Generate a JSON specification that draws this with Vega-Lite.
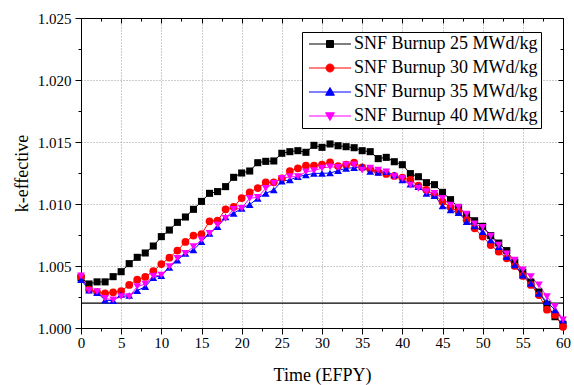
{
  "$schema": "https://vega.github.io/schema/vega-lite/v6.json",
  "width": 482,
  "height": 310,
  "autosize": {"type": "none"},
  "padding": {"left": 81, "top": 18, "right": 11, "bottom": 57},
  "background": "white",
  "config": {
    "font": "Liberation Serif",
    "view": {"stroke": "black", "strokeWidth": 1},
    "axis": {"domainColor": "black", "tickColor": "black", "labelColor": "black", "titleColor": "black", "titleFontWeight": "normal", "labelFont": "Liberation Serif", "titleFont": "Liberation Serif"}
  },
  "datasets": {
    "k": [
      {"t":0,"SNF Burnup 25 MWd/kg":1.00405,"SNF Burnup 30 MWd/kg":1.00414,"SNF Burnup 35 MWd/kg":1.0039,"SNF Burnup 40 MWd/kg":1.0042},
      {"t":1,"SNF Burnup 25 MWd/kg":1.00355,"SNF Burnup 30 MWd/kg":1.0031,"SNF Burnup 35 MWd/kg":1.00306,"SNF Burnup 40 MWd/kg":1.00302},
      {"t":2,"SNF Burnup 25 MWd/kg":1.00372,"SNF Burnup 30 MWd/kg":1.0029,"SNF Burnup 35 MWd/kg":1.00285,"SNF Burnup 40 MWd/kg":1.00293},
      {"t":3,"SNF Burnup 25 MWd/kg":1.00372,"SNF Burnup 30 MWd/kg":1.0028,"SNF Burnup 35 MWd/kg":1.00225,"SNF Burnup 40 MWd/kg":1.0024},
      {"t":4,"SNF Burnup 25 MWd/kg":1.00414,"SNF Burnup 30 MWd/kg":1.00288,"SNF Burnup 35 MWd/kg":1.0022,"SNF Burnup 40 MWd/kg":1.00226},
      {"t":5,"SNF Burnup 25 MWd/kg":1.00454,"SNF Burnup 30 MWd/kg":1.00298,"SNF Burnup 35 MWd/kg":1.0027,"SNF Burnup 40 MWd/kg":1.00253},
      {"t":6,"SNF Burnup 25 MWd/kg":1.00519,"SNF Burnup 30 MWd/kg":1.00347,"SNF Burnup 35 MWd/kg":1.00262,"SNF Burnup 40 MWd/kg":1.00253},
      {"t":7,"SNF Burnup 25 MWd/kg":1.0057,"SNF Burnup 30 MWd/kg":1.0039,"SNF Burnup 35 MWd/kg":1.00302,"SNF Burnup 40 MWd/kg":1.00333},
      {"t":8,"SNF Burnup 25 MWd/kg":1.00605,"SNF Burnup 30 MWd/kg":1.00412,"SNF Burnup 35 MWd/kg":1.00333,"SNF Burnup 40 MWd/kg":1.00355},
      {"t":9,"SNF Burnup 25 MWd/kg":1.00661,"SNF Burnup 30 MWd/kg":1.00458,"SNF Burnup 35 MWd/kg":1.00407,"SNF Burnup 40 MWd/kg":1.00419},
      {"t":10,"SNF Burnup 25 MWd/kg":1.00737,"SNF Burnup 30 MWd/kg":1.00516,"SNF Burnup 35 MWd/kg":1.00422,"SNF Burnup 40 MWd/kg":1.00427},
      {"t":11,"SNF Burnup 25 MWd/kg":1.0079,"SNF Burnup 30 MWd/kg":1.00567,"SNF Burnup 35 MWd/kg":1.00488,"SNF Burnup 40 MWd/kg":1.00495},
      {"t":12,"SNF Burnup 25 MWd/kg":1.00852,"SNF Burnup 30 MWd/kg":1.00624,"SNF Burnup 35 MWd/kg":1.00548,"SNF Burnup 40 MWd/kg":1.00562},
      {"t":13,"SNF Burnup 25 MWd/kg":1.00895,"SNF Burnup 30 MWd/kg":1.00694,"SNF Burnup 35 MWd/kg":1.00602,"SNF Burnup 40 MWd/kg":1.00602},
      {"t":14,"SNF Burnup 25 MWd/kg":1.00957,"SNF Burnup 30 MWd/kg":1.00745,"SNF Burnup 35 MWd/kg":1.00629,"SNF Burnup 40 MWd/kg":1.00656},
      {"t":15,"SNF Burnup 25 MWd/kg":1.01021,"SNF Burnup 30 MWd/kg":1.00758,"SNF Burnup 35 MWd/kg":1.00696,"SNF Burnup 40 MWd/kg":1.0071},
      {"t":16,"SNF Burnup 25 MWd/kg":1.01086,"SNF Burnup 30 MWd/kg":1.0086,"SNF Burnup 35 MWd/kg":1.00763,"SNF Burnup 40 MWd/kg":1.00763},
      {"t":17,"SNF Burnup 25 MWd/kg":1.011,"SNF Burnup 30 MWd/kg":1.00866,"SNF Burnup 35 MWd/kg":1.00817,"SNF Burnup 40 MWd/kg":1.0083},
      {"t":18,"SNF Burnup 25 MWd/kg":1.0114,"SNF Burnup 30 MWd/kg":1.00957,"SNF Burnup 35 MWd/kg":1.00895,"SNF Burnup 40 MWd/kg":1.00884},
      {"t":19,"SNF Burnup 25 MWd/kg":1.01215,"SNF Burnup 30 MWd/kg":1.00976,"SNF Burnup 35 MWd/kg":1.00925,"SNF Burnup 40 MWd/kg":1.00957},
      {"t":20,"SNF Burnup 25 MWd/kg":1.0125,"SNF Burnup 30 MWd/kg":1.01048,"SNF Burnup 35 MWd/kg":1.00965,"SNF Burnup 40 MWd/kg":1.00965},
      {"t":21,"SNF Burnup 25 MWd/kg":1.01266,"SNF Burnup 30 MWd/kg":1.01094,"SNF Burnup 35 MWd/kg":1.00995,"SNF Burnup 40 MWd/kg":1.01046},
      {"t":22,"SNF Burnup 25 MWd/kg":1.01333,"SNF Burnup 30 MWd/kg":1.01129,"SNF Burnup 35 MWd/kg":1.01046,"SNF Burnup 40 MWd/kg":1.01054},
      {"t":23,"SNF Burnup 25 MWd/kg":1.01344,"SNF Burnup 30 MWd/kg":1.01175,"SNF Burnup 35 MWd/kg":1.01086,"SNF Burnup 40 MWd/kg":1.01126},
      {"t":24,"SNF Burnup 25 MWd/kg":1.01347,"SNF Burnup 30 MWd/kg":1.01175,"SNF Burnup 35 MWd/kg":1.01113,"SNF Burnup 40 MWd/kg":1.01167},
      {"t":25,"SNF Burnup 25 MWd/kg":1.01409,"SNF Burnup 30 MWd/kg":1.01207,"SNF Burnup 35 MWd/kg":1.01185,"SNF Burnup 40 MWd/kg":1.01207},
      {"t":26,"SNF Burnup 25 MWd/kg":1.01422,"SNF Burnup 30 MWd/kg":1.01266,"SNF Burnup 35 MWd/kg":1.01194,"SNF Burnup 40 MWd/kg":1.0122},
      {"t":27,"SNF Burnup 25 MWd/kg":1.0143,"SNF Burnup 30 MWd/kg":1.01288,"SNF Burnup 35 MWd/kg":1.0122,"SNF Burnup 40 MWd/kg":1.0122},
      {"t":28,"SNF Burnup 25 MWd/kg":1.01417,"SNF Burnup 30 MWd/kg":1.01309,"SNF Burnup 35 MWd/kg":1.01234,"SNF Burnup 40 MWd/kg":1.0126},
      {"t":29,"SNF Burnup 25 MWd/kg":1.01473,"SNF Burnup 30 MWd/kg":1.01309,"SNF Burnup 35 MWd/kg":1.01247,"SNF Burnup 40 MWd/kg":1.01269},
      {"t":30,"SNF Burnup 25 MWd/kg":1.01457,"SNF Burnup 30 MWd/kg":1.01317,"SNF Burnup 35 MWd/kg":1.01247,"SNF Burnup 40 MWd/kg":1.0129},
      {"t":31,"SNF Burnup 25 MWd/kg":1.01484,"SNF Burnup 30 MWd/kg":1.01336,"SNF Burnup 35 MWd/kg":1.0125,"SNF Burnup 40 MWd/kg":1.013},
      {"t":32,"SNF Burnup 25 MWd/kg":1.0147,"SNF Burnup 30 MWd/kg":1.01306,"SNF Burnup 35 MWd/kg":1.01269,"SNF Burnup 40 MWd/kg":1.01296},
      {"t":33,"SNF Burnup 25 MWd/kg":1.01462,"SNF Burnup 30 MWd/kg":1.01317,"SNF Burnup 35 MWd/kg":1.01288,"SNF Burnup 40 MWd/kg":1.01315},
      {"t":34,"SNF Burnup 25 MWd/kg":1.01454,"SNF Burnup 30 MWd/kg":1.01333,"SNF Burnup 35 MWd/kg":1.01293,"SNF Burnup 40 MWd/kg":1.01315},
      {"t":35,"SNF Burnup 25 MWd/kg":1.0143,"SNF Burnup 30 MWd/kg":1.01296,"SNF Burnup 35 MWd/kg":1.013,"SNF Burnup 40 MWd/kg":1.01274},
      {"t":36,"SNF Burnup 25 MWd/kg":1.01422,"SNF Burnup 30 MWd/kg":1.01282,"SNF Burnup 35 MWd/kg":1.01262,"SNF Burnup 40 MWd/kg":1.0129},
      {"t":37,"SNF Burnup 25 MWd/kg":1.01366,"SNF Burnup 30 MWd/kg":1.0126,"SNF Burnup 35 MWd/kg":1.01255,"SNF Burnup 40 MWd/kg":1.01274},
      {"t":38,"SNF Burnup 25 MWd/kg":1.01376,"SNF Burnup 30 MWd/kg":1.01242,"SNF Burnup 35 MWd/kg":1.0126,"SNF Burnup 40 MWd/kg":1.0126},
      {"t":39,"SNF Burnup 25 MWd/kg":1.01341,"SNF Burnup 30 MWd/kg":1.01226,"SNF Burnup 35 MWd/kg":1.01234,"SNF Burnup 40 MWd/kg":1.0122},
      {"t":40,"SNF Burnup 25 MWd/kg":1.01317,"SNF Burnup 30 MWd/kg":1.01212,"SNF Burnup 35 MWd/kg":1.01194,"SNF Burnup 40 MWd/kg":1.01207},
      {"t":41,"SNF Burnup 25 MWd/kg":1.01245,"SNF Burnup 30 MWd/kg":1.01194,"SNF Burnup 35 MWd/kg":1.01161,"SNF Burnup 40 MWd/kg":1.01153},
      {"t":42,"SNF Burnup 25 MWd/kg":1.0122,"SNF Burnup 30 MWd/kg":1.01148,"SNF Burnup 35 MWd/kg":1.0114,"SNF Burnup 40 MWd/kg":1.01126},
      {"t":43,"SNF Burnup 25 MWd/kg":1.01172,"SNF Burnup 30 MWd/kg":1.01113,"SNF Burnup 35 MWd/kg":1.01086,"SNF Burnup 40 MWd/kg":1.011},
      {"t":44,"SNF Burnup 25 MWd/kg":1.01156,"SNF Burnup 30 MWd/kg":1.01075,"SNF Burnup 35 MWd/kg":1.01067,"SNF Burnup 40 MWd/kg":1.01086},
      {"t":45,"SNF Burnup 25 MWd/kg":1.01094,"SNF Burnup 30 MWd/kg":1.01019,"SNF Burnup 35 MWd/kg":1.00984,"SNF Burnup 40 MWd/kg":1.01046},
      {"t":46,"SNF Burnup 25 MWd/kg":1.01035,"SNF Burnup 30 MWd/kg":1.00973,"SNF Burnup 35 MWd/kg":1.00952,"SNF Burnup 40 MWd/kg":1.00992},
      {"t":47,"SNF Burnup 25 MWd/kg":1.00973,"SNF Burnup 30 MWd/kg":1.00938,"SNF Burnup 35 MWd/kg":1.0093,"SNF Burnup 40 MWd/kg":1.00973},
      {"t":48,"SNF Burnup 25 MWd/kg":1.00915,"SNF Burnup 30 MWd/kg":1.00871,"SNF Burnup 35 MWd/kg":1.00858,"SNF Burnup 40 MWd/kg":1.00919},
      {"t":49,"SNF Burnup 25 MWd/kg":1.00865,"SNF Burnup 30 MWd/kg":1.00804,"SNF Burnup 35 MWd/kg":1.00823,"SNF Burnup 40 MWd/kg":1.00839},
      {"t":50,"SNF Burnup 25 MWd/kg":1.0082,"SNF Burnup 30 MWd/kg":1.00737,"SNF Burnup 35 MWd/kg":1.00777,"SNF Burnup 40 MWd/kg":1.00812},
      {"t":51,"SNF Burnup 25 MWd/kg":1.00745,"SNF Burnup 30 MWd/kg":1.00669,"SNF Burnup 35 MWd/kg":1.0071,"SNF Burnup 40 MWd/kg":1.00742},
      {"t":52,"SNF Burnup 25 MWd/kg":1.00685,"SNF Burnup 30 MWd/kg":1.00615,"SNF Burnup 35 MWd/kg":1.00656,"SNF Burnup 40 MWd/kg":1.00669},
      {"t":53,"SNF Burnup 25 MWd/kg":1.00624,"SNF Burnup 30 MWd/kg":1.00562,"SNF Burnup 35 MWd/kg":1.00575,"SNF Burnup 40 MWd/kg":1.00597},
      {"t":54,"SNF Burnup 25 MWd/kg":1.0053,"SNF Burnup 30 MWd/kg":1.005,"SNF Burnup 35 MWd/kg":1.00508,"SNF Burnup 40 MWd/kg":1.00548},
      {"t":55,"SNF Burnup 25 MWd/kg":1.0045,"SNF Burnup 30 MWd/kg":1.0042,"SNF Burnup 35 MWd/kg":1.00427,"SNF Burnup 40 MWd/kg":1.00468},
      {"t":56,"SNF Burnup 25 MWd/kg":1.0037,"SNF Burnup 30 MWd/kg":1.00347,"SNF Burnup 35 MWd/kg":1.0036,"SNF Burnup 40 MWd/kg":1.00414},
      {"t":57,"SNF Burnup 25 MWd/kg":1.0029,"SNF Burnup 30 MWd/kg":1.00266,"SNF Burnup 35 MWd/kg":1.0028,"SNF Burnup 40 MWd/kg":1.00347},
      {"t":58,"SNF Burnup 25 MWd/kg":1.0019,"SNF Burnup 30 MWd/kg":1.00148,"SNF Burnup 35 MWd/kg":1.00212,"SNF Burnup 40 MWd/kg":1.00253},
      {"t":59,"SNF Burnup 25 MWd/kg":1.00091,"SNF Burnup 30 MWd/kg":1.00105,"SNF Burnup 35 MWd/kg":1.00145,"SNF Burnup 40 MWd/kg":1.00172},
      {"t":60,"SNF Burnup 25 MWd/kg":1.0003,"SNF Burnup 30 MWd/kg":1.0001,"SNF Burnup 35 MWd/kg":1.00065,"SNF Burnup 40 MWd/kg":1.00065}
    ],
    "limit": [{"k": 1.002}]
  },
  "layer": [
    {
      "data": {"name": "k"},
      "transform": [{"filter": "false"}],
      "mark": {"type": "point", "opacity": 0},
      "encoding": {
        "x": {"field": "t", "type": "quantitative", "scale": {"domain": [0, 60], "nice": false, "zero": false},
          "axis": {"orient": "bottom", "values": [0,2.5,5,7.5,10,12.5,15,17.5,20,22.5,25,27.5,30,32.5,35,37.5,40,42.5,45,47.5,50,52.5,55,57.5,60],
            "labelExpr": "datum.value % 5 != 0 ? '' : datum.label",
            "title": "Time (EFPY)", "grid": true, "gridDash": [1, 2], "gridColor": "#9a9a9a", "gridWidth": 1,
            "gridOpacity": {"condition": {"test": "datum.value % 5 != 0", "value": 0}, "value": 1},
            "tickSize": {"condition": {"test": "datum.value % 5 != 0", "value": 3}, "value": 6},
            "labelPadding": 1, "labelFontSize": 15, "labelFlush": false, "labelOverlap": false, "titleFontSize": 18, "titleY": 52, "titleBaseline": "alphabetic"}},
        "y": {"field": "k", "type": "quantitative", "scale": {"domain": [1.0, 1.025], "nice": false, "zero": false},
          "axis": {"orient": "left", "values": [1.0, 1.0025, 1.005, 1.0075, 1.01, 1.0125, 1.015, 1.0175, 1.02, 1.0225, 1.025], "format": ".3f",
            "labelExpr": "abs(round(datum.value * 200) - datum.value * 200) > 0.01 ? '' : datum.label",
            "title": "k-effective", "grid": true, "gridDash": [1, 2], "gridColor": "#9a9a9a", "gridWidth": 1,
            "gridOpacity": {"condition": {"test": "abs(round(datum.value * 200) - datum.value * 200) > 0.01", "value": 0}, "value": 1},
            "tickSize": {"condition": {"test": "abs(round(datum.value * 200) - datum.value * 200) > 0.01", "value": 3}, "value": 6},
            "labelPadding": 4, "labelFontSize": 15, "labelFlush": false, "labelOverlap": false, "titleFontSize": 18, "titleX": -59, "titleY": 155, "titleAngle": -90, "titleAlign": "center", "titleBaseline": "middle"}}
      }
    },
    {
      "data": {"name": "k"},
      "transform": [{"filter": "false"}],
      "mark": {"type": "point", "opacity": 0},
      "encoding": {
        "x": {"field": "t", "type": "quantitative", "scale": {"domain": [0, 60], "nice": false, "zero": false},
          "axis": {"orient": "top", "values": [0,2.5,5,7.5,10,12.5,15,17.5,20,22.5,25,27.5,30,32.5,35,37.5,40,42.5,45,47.5,50,52.5,55,57.5,60], "title": null, "labels": false, "domain": true, "grid": false,
            "tickSize": {"condition": {"test": "datum.value % 5 != 0", "value": -3}, "value": -5}}},
        "y": {"field": "k", "type": "quantitative", "scale": {"domain": [1.0, 1.025], "nice": false, "zero": false},
          "axis": {"orient": "right", "values": [1.0, 1.0025, 1.005, 1.0075, 1.01, 1.0125, 1.015, 1.0175, 1.02, 1.0225, 1.025], "title": null, "labels": false, "domain": true, "grid": false,
            "tickSize": {"condition": {"test": "abs(round(datum.value * 200) - datum.value * 200) > 0.01", "value": -3}, "value": -5}}}
      }
    },
    {
      "data": {"name": "limit"},
      "mark": {"type": "rule", "color": "black", "strokeWidth": 1.3},
      "encoding": {
        "y": {"field": "k", "type": "quantitative", "scale": {"domain": [1.0, 1.025], "nice": false, "zero": false}, "axis": null}
      }
    },
    {
      "data": {"name": "k"},
      "transform": [{"fold": ["SNF Burnup 25 MWd/kg", "SNF Burnup 30 MWd/kg", "SNF Burnup 35 MWd/kg", "SNF Burnup 40 MWd/kg"], "as": ["series", "k"]}],
      "mark": {"type": "line", "strokeWidth": 1},
      "encoding": {
        "x": {"field": "t", "type": "quantitative", "scale": {"domain": [0, 60], "nice": false, "zero": false}, "axis": null},
        "y": {"field": "k", "type": "quantitative", "scale": {"domain": [1.0, 1.025], "nice": false, "zero": false}, "axis": null},
        "color": {"field": "series", "type": "nominal", "scale": {"domain": ["SNF Burnup 25 MWd/kg", "SNF Burnup 30 MWd/kg", "SNF Burnup 35 MWd/kg", "SNF Burnup 40 MWd/kg"], "range": ["#000000", "#ff0000", "#0000ff", "#ff00ff"]}, "legend": null}
      }
    },
    {
      "data": {"name": "k"},
      "transform": [{"fold": ["SNF Burnup 25 MWd/kg"], "as": ["series", "k"]}],
      "mark": {"type": "point", "shape": "square", "filled": true, "opacity": 1, "size": 50, "color": "#000000", "strokeWidth": 0.5},
      "encoding": {
        "x": {"field": "t", "type": "quantitative", "scale": {"domain": [0, 60], "nice": false, "zero": false}, "axis": null},
        "y": {"field": "k", "type": "quantitative", "scale": {"domain": [1.0, 1.025], "nice": false, "zero": false}, "axis": null}
      }
    },
    {
      "data": {"name": "k"},
      "transform": [{"fold": ["SNF Burnup 30 MWd/kg"], "as": ["series", "k"]}],
      "mark": {"type": "point", "shape": "circle", "filled": true, "opacity": 1, "size": 60, "color": "#ff0000", "strokeWidth": 0.5},
      "encoding": {
        "x": {"field": "t", "type": "quantitative", "scale": {"domain": [0, 60], "nice": false, "zero": false}, "axis": null},
        "y": {"field": "k", "type": "quantitative", "scale": {"domain": [1.0, 1.025], "nice": false, "zero": false}, "axis": null}
      }
    },
    {
      "data": {"name": "k"},
      "transform": [{"fold": ["SNF Burnup 35 MWd/kg"], "as": ["series", "k"]}],
      "mark": {"type": "point", "shape": "triangle-up", "filled": true, "opacity": 1, "size": 60, "color": "#0000ff", "strokeWidth": 0.5},
      "encoding": {
        "x": {"field": "t", "type": "quantitative", "scale": {"domain": [0, 60], "nice": false, "zero": false}, "axis": null},
        "y": {"field": "k", "type": "quantitative", "scale": {"domain": [1.0, 1.025], "nice": false, "zero": false}, "axis": null}
      }
    },
    {
      "data": {"name": "k"},
      "transform": [{"fold": ["SNF Burnup 40 MWd/kg"], "as": ["series", "k"]}],
      "mark": {"type": "point", "shape": "triangle-down", "filled": true, "opacity": 1, "size": 60, "color": "#ff00ff", "strokeWidth": 0.5},
      "encoding": {
        "x": {"field": "t", "type": "quantitative", "scale": {"domain": [0, 60], "nice": false, "zero": false}, "axis": null},
        "y": {"field": "k", "type": "quantitative", "scale": {"domain": [1.0, 1.025], "nice": false, "zero": false}, "axis": null}
      }
    },
    {
      "data": {"name": "k"},
      "transform": [{"fold": ["SNF Burnup 25 MWd/kg", "SNF Burnup 30 MWd/kg", "SNF Burnup 35 MWd/kg", "SNF Burnup 40 MWd/kg"], "as": ["series", "k"]}, {"filter": "false"}],
      "mark": {"type": "point", "filled": true, "opacity": 1},
      "encoding": {
        "x": {"field": "t", "type": "quantitative", "scale": {"domain": [0, 60], "nice": false, "zero": false}, "axis": null},
        "y": {"field": "k", "type": "quantitative", "scale": {"domain": [1.0, 1.025], "nice": false, "zero": false}, "axis": null},
        "shape": {"field": "series", "type": "nominal",
          "scale": {"domain": ["SNF Burnup 25 MWd/kg", "SNF Burnup 30 MWd/kg", "SNF Burnup 35 MWd/kg", "SNF Burnup 40 MWd/kg"],
            "range": ["M-1,0H7.4M2.5,-0.7H3.9V0.7H2.5Z", "M-1,0H7.4M4,0A0.8,0.8,0,1,1,2.4,0A0.8,0.8,0,1,1,4,0Z", "M-1,0H7.4M3.2,-0.9L4.08,0.65H2.32Z", "M-1,0H7.4M3.2,0.9L4.08,-0.65H2.32Z"]},
          "legend": {"title": null, "orient": "none", "legendX": 221, "legendY": 14, "symbolSize": 100, "symbolStrokeWidth": 1, "labelFontSize": 18, "labelFont": "Liberation Serif", "labelColor": "black", "labelOffset": 31, "labelLimit": 300, "rowPadding": 6, "padding": 3, "strokeColor": "black", "fillColor": "white"}},
        "fill": {"field": "series", "type": "nominal", "scale": {"domain": ["SNF Burnup 25 MWd/kg", "SNF Burnup 30 MWd/kg", "SNF Burnup 35 MWd/kg", "SNF Burnup 40 MWd/kg"], "range": ["#000000", "#ff0000", "#0000ff", "#ff00ff"]},
          "legend": {"title": null, "orient": "none", "legendX": 221, "legendY": 14, "symbolSize": 100, "symbolStrokeWidth": 1, "labelFontSize": 18, "labelFont": "Liberation Serif", "labelColor": "black", "labelOffset": 31, "labelLimit": 300, "rowPadding": 6, "padding": 3, "strokeColor": "black", "fillColor": "white"}},
        "stroke": {"field": "series", "type": "nominal", "scale": {"domain": ["SNF Burnup 25 MWd/kg", "SNF Burnup 30 MWd/kg", "SNF Burnup 35 MWd/kg", "SNF Burnup 40 MWd/kg"], "range": ["#000000", "#ff0000", "#0000ff", "#ff00ff"]},
          "legend": {"title": null, "orient": "none", "legendX": 221, "legendY": 14, "symbolSize": 100, "symbolStrokeWidth": 1, "labelFontSize": 18, "labelFont": "Liberation Serif", "labelColor": "black", "labelOffset": 31, "labelLimit": 300, "rowPadding": 6, "padding": 3, "strokeColor": "black", "fillColor": "white"}}
      }
    }
  ],
  "resolve": {"axis": {"x": "independent", "y": "independent"}, "scale": {"shape": "independent", "fill": "independent", "stroke": "independent"}}
}
